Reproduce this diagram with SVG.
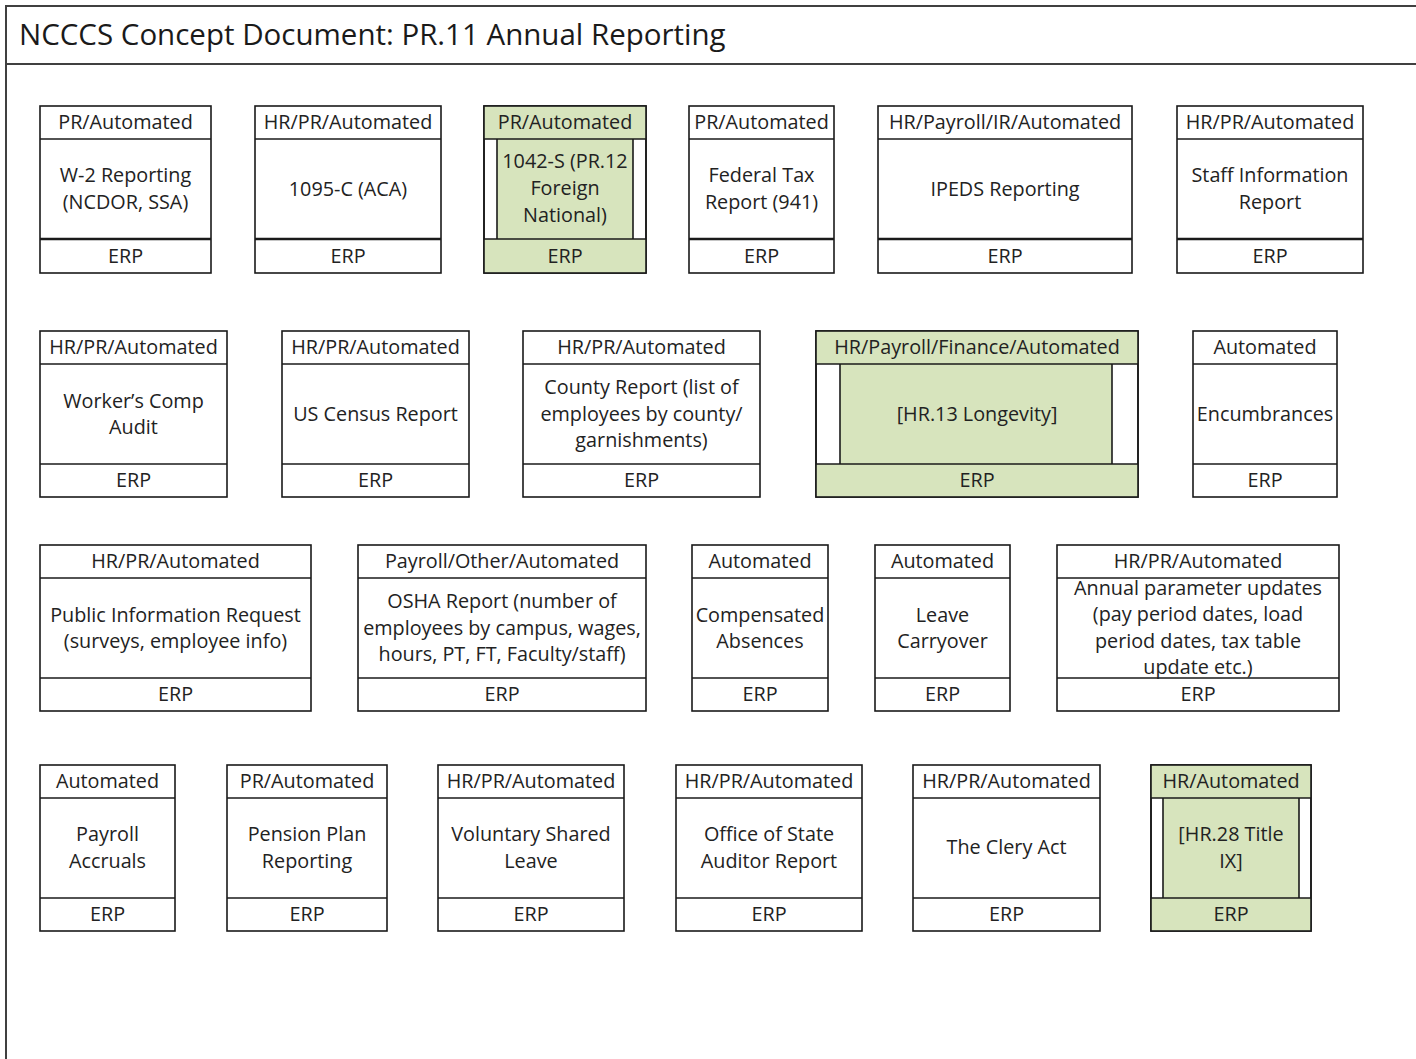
<svg xmlns="http://www.w3.org/2000/svg" width="1416" height="1059" viewBox="0 0 1416 1059">
  <style>
    .frame { fill: #ffffff; stroke: #404040; stroke-width: 2; }
    .box { fill: #ffffff; stroke: #1a1a1a; stroke-width: 1.6; }
    .band { fill: none; stroke: #1a1a1a; stroke-width: 1.6; }
    .rule { stroke: #1a1a1a; stroke-width: 2.4; }
    .thin { stroke: #1a1a1a; stroke-width: 1.6; }
    .green { fill: #d7e4bd; }
    .title { font-family: "Open Sans", "Liberation Sans", sans-serif; font-size: 29.5px; fill: #1a1a1a; }
    .t { font-family: "Open Sans", "Liberation Sans", sans-serif; font-size: 19.8px; fill: #222222; text-anchor: middle; }
  </style>

  <rect width="1416" height="1059" fill="#ffffff"/>

  <!-- page frame and heading -->
  <g id="frame">
    <rect class="frame" x="6" y="6" width="1420" height="1070"/>
    <line x1="6" y1="64" x2="1416" y2="64" stroke="#404040" stroke-width="2"/>
    <text class="title" x="19" y="45">NCCCS Concept Document: PR.11 Annual Reporting</text>
  </g>

  <!-- ===== Row 1 ===== -->
  <g id="w2">
    <rect class="box" x="40" y="106" width="171" height="167"/>
    <line class="thin" x1="40" y1="139" x2="211" y2="139"/>
    <line class="rule" x1="40" y1="239" x2="211" y2="239"/>
    <text class="t" x="125.5" y="129">PR/Automated</text>
    <text class="t" x="125.5" y="182">W-2 Reporting</text>
    <text class="t" x="125.5" y="209">(NCDOR, SSA)</text>
    <text class="t" x="125.5" y="263">ERP</text>
  </g>
  <g id="aca1095c">
    <rect class="box" x="255" y="106" width="186" height="167"/>
    <line class="thin" x1="255" y1="139" x2="441" y2="139"/>
    <line class="rule" x1="255" y1="239" x2="441" y2="239"/>
    <text class="t" x="348" y="129">HR/PR/Automated</text>
    <text class="t" x="348" y="196">1095-C (ACA)</text>
    <text class="t" x="348" y="263">ERP</text>
  </g>
  <g id="form1042s">
    <rect class="box" x="484" y="106" width="162" height="167"/>
    <rect class="green" x="484" y="106" width="162" height="33"/>
    <rect class="green" x="497" y="139" width="136" height="100"/>
    <rect class="green" x="484" y="239" width="162" height="34"/>
    <rect class="band" x="484" y="106" width="162" height="167"/>
    <line class="thin" x1="484" y1="139" x2="646" y2="139"/>
    <line class="thin" x1="484" y1="239" x2="646" y2="239"/>
    <line class="thin" x1="497" y1="139" x2="497" y2="239"/>
    <line class="thin" x1="633" y1="139" x2="633" y2="239"/>
    <text class="t" x="565" y="129">PR/Automated</text>
    <text class="t" x="565" y="168">1042-S (PR.12</text>
    <text class="t" x="565" y="195">Foreign</text>
    <text class="t" x="565" y="222">National)</text>
    <text class="t" x="565" y="263">ERP</text>
  </g>
  <g id="fed941">
    <rect class="box" x="689" y="106" width="145" height="167"/>
    <line class="thin" x1="689" y1="139" x2="834" y2="139"/>
    <line class="rule" x1="689" y1="239" x2="834" y2="239"/>
    <text class="t" x="761.5" y="129">PR/Automated</text>
    <text class="t" x="761.5" y="182">Federal Tax</text>
    <text class="t" x="761.5" y="209">Report (941)</text>
    <text class="t" x="761.5" y="263">ERP</text>
  </g>
  <g id="ipeds">
    <rect class="box" x="878" y="106" width="254" height="167"/>
    <line class="thin" x1="878" y1="139" x2="1132" y2="139"/>
    <line class="rule" x1="878" y1="239" x2="1132" y2="239"/>
    <text class="t" x="1005" y="129">HR/Payroll/IR/Automated</text>
    <text class="t" x="1005" y="196">IPEDS Reporting</text>
    <text class="t" x="1005" y="263">ERP</text>
  </g>
  <g id="staffinfo">
    <rect class="box" x="1177" y="106" width="186" height="167"/>
    <line class="thin" x1="1177" y1="139" x2="1363" y2="139"/>
    <line class="rule" x1="1177" y1="239" x2="1363" y2="239"/>
    <text class="t" x="1270" y="129">HR/PR/Automated</text>
    <text class="t" x="1270" y="182">Staff Information</text>
    <text class="t" x="1270" y="209">Report</text>
    <text class="t" x="1270" y="263">ERP</text>
  </g>

  <!-- ===== Row 2 ===== -->
  <g id="workerscomp">
    <rect class="box" x="40" y="331" width="187" height="166"/>
    <line class="thin" x1="40" y1="364" x2="227" y2="364"/>
    <line class="thin" x1="40" y1="464" x2="227" y2="464"/>
    <text class="t" x="133.5" y="354">HR/PR/Automated</text>
    <text class="t" x="133.5" y="408">Worker’s Comp</text>
    <text class="t" x="133.5" y="434">Audit</text>
    <text class="t" x="133.5" y="487">ERP</text>
  </g>
  <g id="census">
    <rect class="box" x="282" y="331" width="187" height="166"/>
    <line class="thin" x1="282" y1="364" x2="469" y2="364"/>
    <line class="thin" x1="282" y1="464" x2="469" y2="464"/>
    <text class="t" x="375.5" y="354">HR/PR/Automated</text>
    <text class="t" x="375.5" y="421">US Census Report</text>
    <text class="t" x="375.5" y="487">ERP</text>
  </g>
  <g id="county">
    <rect class="box" x="523" y="331" width="237" height="166"/>
    <line class="thin" x1="523" y1="364" x2="760" y2="364"/>
    <line class="thin" x1="523" y1="464" x2="760" y2="464"/>
    <text class="t" x="641.5" y="354">HR/PR/Automated</text>
    <text class="t" x="641.5" y="394">County Report (list of</text>
    <text class="t" x="641.5" y="421">employees by county/</text>
    <text class="t" x="641.5" y="447">garnishments)</text>
    <text class="t" x="641.5" y="487">ERP</text>
  </g>
  <g id="longevity">
    <rect class="box" x="816" y="331" width="322" height="166"/>
    <rect class="green" x="816" y="331" width="322" height="33"/>
    <rect class="green" x="840" y="364" width="272" height="100"/>
    <rect class="green" x="816" y="464" width="322" height="33"/>
    <rect class="band" x="816" y="331" width="322" height="166"/>
    <line class="thin" x1="816" y1="364" x2="1138" y2="364"/>
    <line class="thin" x1="816" y1="464" x2="1138" y2="464"/>
    <line class="thin" x1="840" y1="364" x2="840" y2="464"/>
    <line class="thin" x1="1112" y1="364" x2="1112" y2="464"/>
    <text class="t" x="977" y="354">HR/Payroll/Finance/Automated</text>
    <text class="t" x="977" y="421">[HR.13 Longevity]</text>
    <text class="t" x="977" y="487">ERP</text>
  </g>
  <g id="encumbrances">
    <rect class="box" x="1193" y="331" width="144" height="166"/>
    <line class="thin" x1="1193" y1="364" x2="1337" y2="364"/>
    <line class="thin" x1="1193" y1="464" x2="1337" y2="464"/>
    <text class="t" x="1265" y="354">Automated</text>
    <text class="t" x="1265" y="421">Encumbrances</text>
    <text class="t" x="1265" y="487">ERP</text>
  </g>

  <!-- ===== Row 3 ===== -->
  <g id="publicinfo">
    <rect class="box" x="40" y="545" width="271" height="166"/>
    <line class="thin" x1="40" y1="578" x2="311" y2="578"/>
    <line class="thin" x1="40" y1="678" x2="311" y2="678"/>
    <text class="t" x="175.5" y="568">HR/PR/Automated</text>
    <text class="t" x="175.5" y="622">Public Information Request</text>
    <text class="t" x="175.5" y="648">(surveys, employee info)</text>
    <text class="t" x="175.5" y="701">ERP</text>
  </g>
  <g id="osha">
    <rect class="box" x="358" y="545" width="288" height="166"/>
    <line class="thin" x1="358" y1="578" x2="646" y2="578"/>
    <line class="thin" x1="358" y1="678" x2="646" y2="678"/>
    <text class="t" x="502" y="568">Payroll/Other/Automated</text>
    <text class="t" x="502" y="608">OSHA Report (number of</text>
    <text class="t" x="502" y="635">employees by campus, wages,</text>
    <text class="t" x="502" y="661">hours, PT, FT, Faculty/staff)</text>
    <text class="t" x="502" y="701">ERP</text>
  </g>
  <g id="compabsences">
    <rect class="box" x="692" y="545" width="136" height="166"/>
    <line class="thin" x1="692" y1="578" x2="828" y2="578"/>
    <line class="thin" x1="692" y1="678" x2="828" y2="678"/>
    <text class="t" x="760" y="568">Automated</text>
    <text class="t" x="760" y="622">Compensated</text>
    <text class="t" x="760" y="648">Absences</text>
    <text class="t" x="760" y="701">ERP</text>
  </g>
  <g id="leavecarryover">
    <rect class="box" x="875" y="545" width="135" height="166"/>
    <line class="thin" x1="875" y1="578" x2="1010" y2="578"/>
    <line class="thin" x1="875" y1="678" x2="1010" y2="678"/>
    <text class="t" x="942.5" y="568">Automated</text>
    <text class="t" x="942.5" y="622">Leave</text>
    <text class="t" x="942.5" y="648">Carryover</text>
    <text class="t" x="942.5" y="701">ERP</text>
  </g>
  <g id="annualparams">
    <rect class="box" x="1057" y="545" width="282" height="166"/>
    <line class="thin" x1="1057" y1="578" x2="1339" y2="578"/>
    <line class="thin" x1="1057" y1="678" x2="1339" y2="678"/>
    <text class="t" x="1198" y="568">HR/PR/Automated</text>
    <text class="t" x="1198" y="595">Annual parameter updates</text>
    <text class="t" x="1198" y="621">(pay period dates, load</text>
    <text class="t" x="1198" y="648">period dates, tax table</text>
    <text class="t" x="1198" y="674">update etc.)</text>
    <text class="t" x="1198" y="701">ERP</text>
  </g>

  <!-- ===== Row 4 ===== -->
  <g id="payrollaccruals">
    <rect class="box" x="40" y="765" width="135" height="166"/>
    <line class="thin" x1="40" y1="798" x2="175" y2="798"/>
    <line class="thin" x1="40" y1="898" x2="175" y2="898"/>
    <text class="t" x="107.5" y="788">Automated</text>
    <text class="t" x="107.5" y="841">Payroll</text>
    <text class="t" x="107.5" y="868">Accruals</text>
    <text class="t" x="107.5" y="921">ERP</text>
  </g>
  <g id="pensionplan">
    <rect class="box" x="227" y="765" width="160" height="166"/>
    <line class="thin" x1="227" y1="798" x2="387" y2="798"/>
    <line class="thin" x1="227" y1="898" x2="387" y2="898"/>
    <text class="t" x="307" y="788">PR/Automated</text>
    <text class="t" x="307" y="841">Pension Plan</text>
    <text class="t" x="307" y="868">Reporting</text>
    <text class="t" x="307" y="921">ERP</text>
  </g>
  <g id="sharedleave">
    <rect class="box" x="438" y="765" width="186" height="166"/>
    <line class="thin" x1="438" y1="798" x2="624" y2="798"/>
    <line class="thin" x1="438" y1="898" x2="624" y2="898"/>
    <text class="t" x="531" y="788">HR/PR/Automated</text>
    <text class="t" x="531" y="841">Voluntary Shared</text>
    <text class="t" x="531" y="868">Leave</text>
    <text class="t" x="531" y="921">ERP</text>
  </g>
  <g id="stateauditor">
    <rect class="box" x="676" y="765" width="186" height="166"/>
    <line class="thin" x1="676" y1="798" x2="862" y2="798"/>
    <line class="thin" x1="676" y1="898" x2="862" y2="898"/>
    <text class="t" x="769" y="788">HR/PR/Automated</text>
    <text class="t" x="769" y="841">Office of State</text>
    <text class="t" x="769" y="868">Auditor Report</text>
    <text class="t" x="769" y="921">ERP</text>
  </g>
  <g id="cleryact">
    <rect class="box" x="913" y="765" width="187" height="166"/>
    <line class="thin" x1="913" y1="798" x2="1100" y2="798"/>
    <line class="thin" x1="913" y1="898" x2="1100" y2="898"/>
    <text class="t" x="1006.5" y="788">HR/PR/Automated</text>
    <text class="t" x="1006.5" y="854">The Clery Act</text>
    <text class="t" x="1006.5" y="921">ERP</text>
  </g>
  <g id="titleix">
    <rect class="box" x="1151" y="765" width="160" height="166"/>
    <rect class="green" x="1151" y="765" width="160" height="33"/>
    <rect class="green" x="1163" y="798" width="136" height="100"/>
    <rect class="green" x="1151" y="898" width="160" height="33"/>
    <rect class="band" x="1151" y="765" width="160" height="166"/>
    <line class="thin" x1="1151" y1="798" x2="1311" y2="798"/>
    <line class="thin" x1="1151" y1="898" x2="1311" y2="898"/>
    <line class="thin" x1="1163" y1="798" x2="1163" y2="898"/>
    <line class="thin" x1="1299" y1="798" x2="1299" y2="898"/>
    <text class="t" x="1231" y="788">HR/Automated</text>
    <text class="t" x="1231" y="841">[HR.28 Title</text>
    <text class="t" x="1231" y="868">IX]</text>
    <text class="t" x="1231" y="921">ERP</text>
  </g>
</svg>
